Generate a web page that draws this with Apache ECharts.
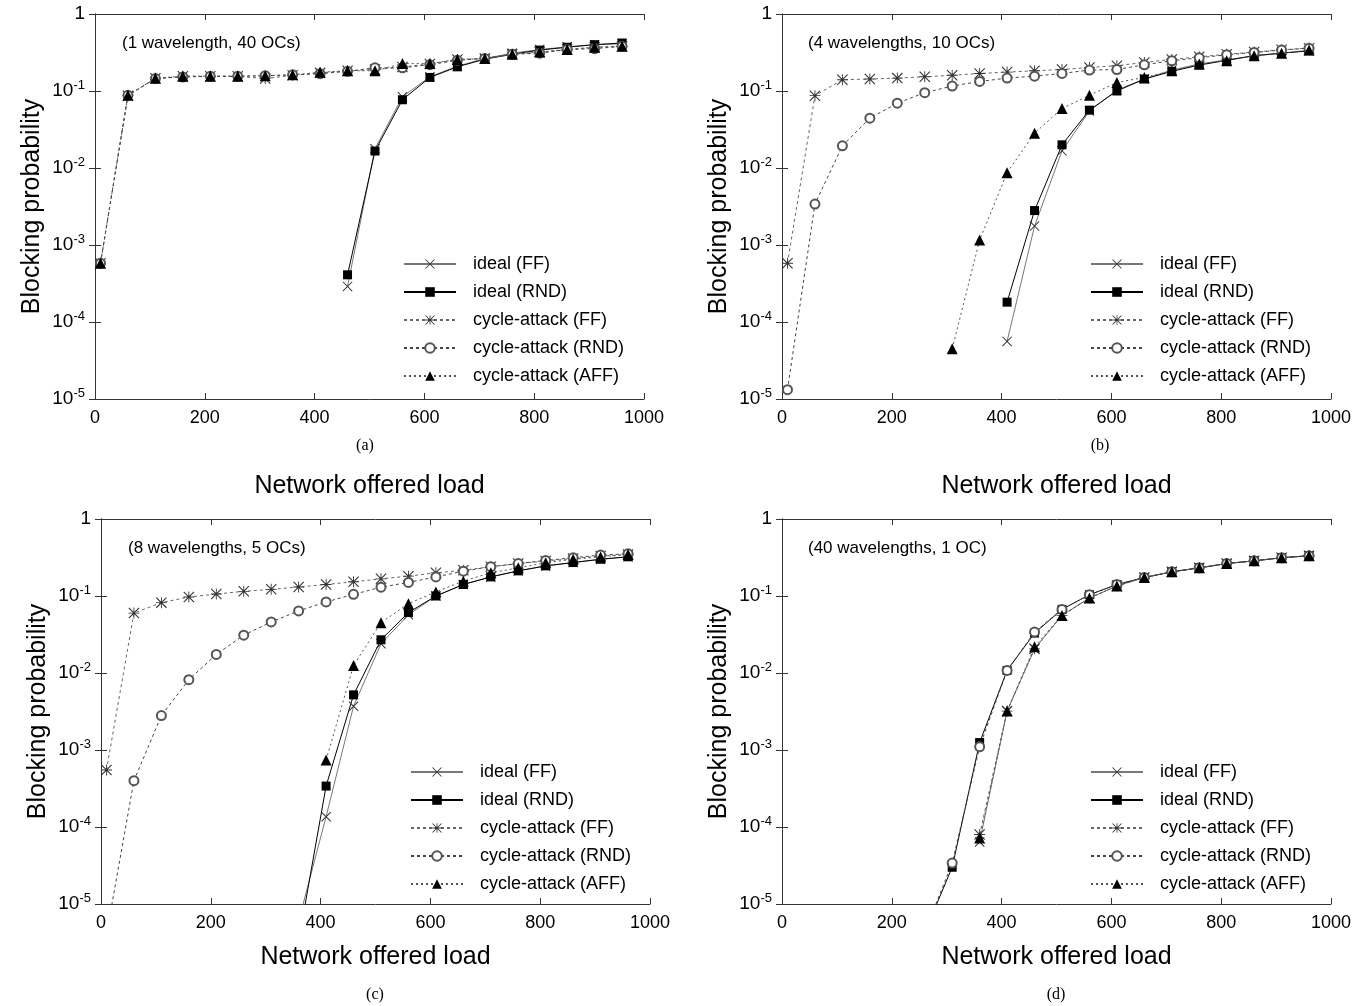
<!DOCTYPE html>
<html>
<head>
<meta charset="utf-8">
<script src="https://cdn.jsdelivr.net/npm/echarts@6/dist/echarts.min.js"></script>
<style>
  html, body { margin: 0; padding: 0; background: #fff; }
  #chart { width: 1369px; height: 1006px; }
</style>
</head>
<body>
<div id="chart"></div>
<script>
// Offered load values (x) shared by every panel
const loads = [10, 60, 110, 160, 210, 260, 310, 360, 410, 460, 510, 560, 610, 660, 710, 760, 810, 860, 910, 960];

// (a) 1 wavelength, 40 OCs
const aIdealFF  = [null, null, null, null, null, null, null, null, null, 2.9e-4, 0.0178, 0.084, 0.153, 0.21, 0.264, 0.31, 0.345, 0.375, 0.40, 0.41];
const aIdealRND = [null, null, null, null, null, null, null, null, null, 4.1e-4, 0.0166, 0.077, 0.15, 0.206, 0.259, 0.30, 0.34, 0.37, 0.40, 0.42];
const aCycFF    = [5.8e-4, 0.087, 0.146, 0.155, 0.155, 0.155, 0.145, 0.160, 0.172, 0.183, 0.19, 0.205, 0.225, 0.257, 0.264, 0.30, 0.32, 0.345, 0.37, 0.38];
const aCycRND   = [5.8e-4, 0.088, 0.145, 0.152, 0.155, 0.155, 0.158, 0.162, 0.168, 0.18, 0.20, 0.20, 0.22, 0.25, 0.265, 0.30, 0.31, 0.345, 0.355, 0.38];
const aCycAFF   = [5.8e-4, 0.088, 0.146, 0.156, 0.156, 0.156, 0.158, 0.162, 0.175, 0.183, 0.183, 0.227, 0.227, 0.257, 0.264, 0.30, 0.32, 0.345, 0.37, 0.38];

// (b) 4 wavelengths, 10 OCs
const bIdealFF  = [null, null, null, null, null, null, null, null, 5.6e-5, 1.76e-3, 0.0167, 0.055, 0.103, 0.143, 0.187, 0.224, 0.254, 0.287, 0.31, 0.333];
const bIdealRND = [null, null, null, null, null, null, null, null, 1.81e-4, 2.8e-3, 0.020, 0.0564, 0.10, 0.143, 0.18, 0.217, 0.25, 0.287, 0.31, 0.333];
const bCycFF    = [5.8e-4, 0.087, 0.14, 0.143, 0.147, 0.153, 0.16, 0.169, 0.176, 0.183, 0.19, 0.202, 0.213, 0.235, 0.257, 0.278, 0.30, 0.32, 0.343, 0.36];
const bCycRND   = [1.32e-5, 3.4e-3, 0.0194, 0.0444, 0.0695, 0.095, 0.116, 0.133, 0.147, 0.156, 0.169, 0.187, 0.19, 0.219, 0.247, 0.27, 0.295, 0.317, 0.34, 0.36];
const bCycAFF   = [null, null, null, null, null, null, 4.5e-5, 1.16e-3, 8.7e-3, 0.0283, 0.0593, 0.088, 0.129, 0.15, 0.183, 0.224, 0.247, 0.287, 0.31, 0.34];

// (c) 8 wavelengths, 5 OCs
const cIdealFF  = [null, null, null, null, null, null, null, 6e-6, 1.36e-4, 3.7e-3, 0.024, 0.057, 0.10, 0.141, 0.177, 0.212, 0.246, 0.272, 0.30, 0.323];
const cIdealRND = [null, null, null, null, null, null, null, 3.3e-6, 3.4e-4, 5.2e-3, 0.027, 0.061, 0.10, 0.141, 0.177, 0.212, 0.246, 0.272, 0.30, 0.323];
const cCycFF    = [5.5e-4, 0.06, 0.082, 0.097, 0.106, 0.115, 0.122, 0.131, 0.141, 0.153, 0.167, 0.181, 0.20, 0.216, 0.24, 0.264, 0.284, 0.307, 0.33, 0.346];
const cCycRND   = [4e-6, 4.0e-4, 2.8e-3, 8.2e-3, 0.0174, 0.031, 0.046, 0.064, 0.0837, 0.105, 0.13, 0.15, 0.177, 0.21, 0.24, 0.264, 0.29, 0.314, 0.34, 0.354];
const cCycAFF   = [null, null, null, null, null, null, null, null, 7.4e-4, 0.0125, 0.045, 0.0796, 0.113, 0.156, 0.20, 0.232, 0.27, 0.30, 0.322, 0.346];

// (d) 40 wavelengths, 1 OC
const dIdealFF  = [null, null, null, null, null, null, null, 6.4e-5, 3.2e-3, 0.0206, 0.056, 0.094, 0.135, 0.174, 0.206, 0.232, 0.264, 0.286, 0.314, 0.333];
const dIdealRND = [null, null, null, null, null, 4.3e-6, 3.0e-5, 1.25e-3, 0.0108, 0.033, 0.067, 0.104, 0.141, 0.174, 0.206, 0.232, 0.264, 0.286, 0.314, 0.333];
const dCycFF    = [null, null, null, null, null, null, null, 8.0e-5, 3.2e-3, 0.0206, 0.056, 0.094, 0.135, 0.174, 0.206, 0.232, 0.264, 0.286, 0.314, 0.333];
const dCycRND   = [null, null, null, null, null, 4.3e-6, 3.4e-5, 1.1e-3, 0.0108, 0.034, 0.067, 0.104, 0.141, 0.174, 0.206, 0.232, 0.264, 0.286, 0.314, 0.333];
const dCycAFF   = [null, null, null, null, null, null, null, 7.2e-5, 3.2e-3, 0.022, 0.056, 0.094, 0.135, 0.174, 0.206, 0.232, 0.264, 0.286, 0.314, 0.333];

const seriesNames = ['ideal (FF)', 'ideal (RND)', 'cycle-attack (FF)', 'cycle-attack (RND)', 'cycle-attack (AFF)'];
const panelNotes = ['(1 wavelength, 40 OCs)', '(4 wavelengths, 10 OCs)', '(8 wavelengths, 5 OCs)', '(40 wavelengths, 1 OC)'];
const panelTags = ['(a)', '(b)', '(c)', '(d)'];
const panelData = [
  [aIdealFF, aIdealRND, aCycFF, aCycRND, aCycAFF],
  [bIdealFF, bIdealRND, bCycFF, bCycRND, bCycAFF],
  [cIdealFF, cIdealRND, cCycFF, cCycRND, cCycAFF],
  [dIdealFF, dIdealRND, dCycFF, dCycRND, dCycAFF]
];

// Stroke-like markers built as filled outlines so they render identically in plot and legend
const CROSS = 'path://M0,7L7,0L100,93L93,100ZM93,0L100,7L7,100L0,93Z';
const STAR = 'path://M0,7L7,0L100,93L93,100ZM93,0L100,7L7,100L0,93ZM46,0L54,0L54,100L46,100ZM0,46L100,46L100,54L0,54Z';

const looks = [
  { symbol: CROSS, size: 10, line: { color: '#777', width: 1, type: 'solid' }, item: { color: '#333' } },
  { symbol: 'rect', size: 9, line: { color: '#000', width: 1, type: 'solid' }, item: { color: '#000' } },
  { symbol: STAR, size: 11, line: { color: '#666', width: 1, type: [3, 3] }, item: { color: '#333' } },
  { symbol: 'emptyCircle', size: 9, line: { color: '#444', width: 1, type: [3, 3] }, item: { color: '#555', borderWidth: 1 } },
  { symbol: 'triangle', size: 11, line: { color: '#555', width: 1, type: [2, 3] }, item: { color: '#000' } }
];

// Page layout of the four panels
const layout = [
  { grid: { left: 95, top: 14, width: 549, height: 385 }, yGap: 50, xGap: 75, legend: { left: 398, top: 250 }, note: [122, 45], tag: [365, 446] },
  { grid: { left: 782, top: 14, width: 549, height: 385 }, yGap: 50, xGap: 75, legend: { left: 1085, top: 250 }, note: [808, 45], tag: [1100, 446] },
  { grid: { left: 101, top: 519, width: 549, height: 385 }, yGap: 50, xGap: 41, legend: { left: 405, top: 758 }, note: [128, 550], tag: [375, 995] },
  { grid: { left: 782, top: 519, width: 549, height: 385 }, yGap: 50, xGap: 41, legend: { left: 1085, top: 758 }, note: [808, 550], tag: [1056, 995] }
];

const SANS = '"Liberation Sans", Arial, Helvetica, sans-serif';
const SERIF = '"Liberation Serif", "Times New Roman", serif';
const frame = { show: true, lineStyle: { color: '#333', width: 1 } };

function logLabel(v) {
  const e = Math.round(Math.log10(v));
  return e === 0 ? '{b|1}' : '{b|10}{s|' + e + '}';
}
const logRich = {
  b: { fontSize: 19, fontFamily: SANS, color: '#000' },
  s: { fontSize: 13, fontFamily: SANS, color: '#000', padding: [0, 0, 11, 0] }
};

const grids = [], xAxes = [], yAxes = [], series = [], legends = [], graphics = [];

layout.forEach((p, i) => {
  grids.push(Object.assign({ containLabel: false }, p.grid));

  xAxes.push({
    gridIndex: i, type: 'value', min: 0, max: 1000, interval: 200,
    axisLine: frame, axisTick: { inside: true, length: 6, lineStyle: { color: '#333' } },
    axisLabel: { fontSize: 18, fontFamily: SANS, color: '#000', margin: 10, formatter: v => String(v) },
    splitLine: { show: false },
    name: 'Network offered load', nameLocation: 'middle', nameGap: p.xGap,
    nameTextStyle: { fontSize: 25, fontFamily: SANS, color: '#000' }
  });
  xAxes.push({
    gridIndex: i, type: 'value', position: 'top', min: 0, max: 1000, interval: 200,
    axisLine: frame, axisTick: { inside: true, length: 6, lineStyle: { color: '#333' } },
    axisLabel: { show: false }, splitLine: { show: false }
  });
  yAxes.push({
    gridIndex: i, type: 'log', logBase: 10, min: 1e-5, max: 1,
    axisLine: frame, axisTick: { inside: true, length: 6, lineStyle: { color: '#333' } },
    minorTick: { show: false },
    axisLabel: { formatter: logLabel, rich: logRich, margin: 10 },
    splitLine: { show: false },
    name: 'Blocking probability', nameLocation: 'middle', nameGap: p.yGap, nameRotate: 90,
    nameTextStyle: { fontSize: 25, fontFamily: SANS, color: '#000' }
  });
  yAxes.push({
    gridIndex: i, type: 'log', logBase: 10, min: 1e-5, max: 1, position: 'right',
    axisLine: frame, axisTick: { inside: true, length: 6, lineStyle: { color: '#333' } },
    axisLabel: { show: false }, splitLine: { show: false }
  });

  panelData[i].forEach((vals, k) => {
    const lk = looks[k];
    series.push({
      name: seriesNames[k], type: 'line', xAxisIndex: 2 * i, yAxisIndex: 2 * i,
      data: loads.map((x, j) => vals[j] == null ? null : [x, vals[j]]).filter(d => d !== null),
      symbol: lk.symbol, symbolSize: lk.size, showAllSymbol: true,
      lineStyle: lk.line, itemStyle: lk.item, clip: true, animation: false,
      emphasis: { disabled: true }
    });
  });

  legends.push({
    orient: 'vertical', left: p.legend.left, top: p.legend.top,
    data: seriesNames, itemWidth: 52, itemHeight: 12, itemGap: 10,
    itemStyle: { borderWidth: 1 },
    textStyle: { fontSize: 18, fontFamily: SANS, color: '#000', padding: [0, 0, 0, 12], lineHeight: 18 },
    selectedMode: false
  });

  graphics.push({
    type: 'text', left: p.note[0], top: p.note[1] - 10,
    style: { text: panelNotes[i], fontSize: 17, fontFamily: SANS, fill: '#000' }
  });
  graphics.push({
    type: 'text', x: p.tag[0], y: p.tag[1],
    style: { text: panelTags[i], fontSize: 16, fontFamily: SERIF, fill: '#000', align: 'center', verticalAlign: 'middle' }
  });
});

const chart = echarts.init(document.getElementById('chart'), null, { renderer: 'canvas' });
chart.setOption({
  backgroundColor: '#fff',
  animation: false,
  grid: grids, xAxis: xAxes, yAxis: yAxes, series: series, legend: legends, graphic: graphics
});
</script>
</body>
</html>
